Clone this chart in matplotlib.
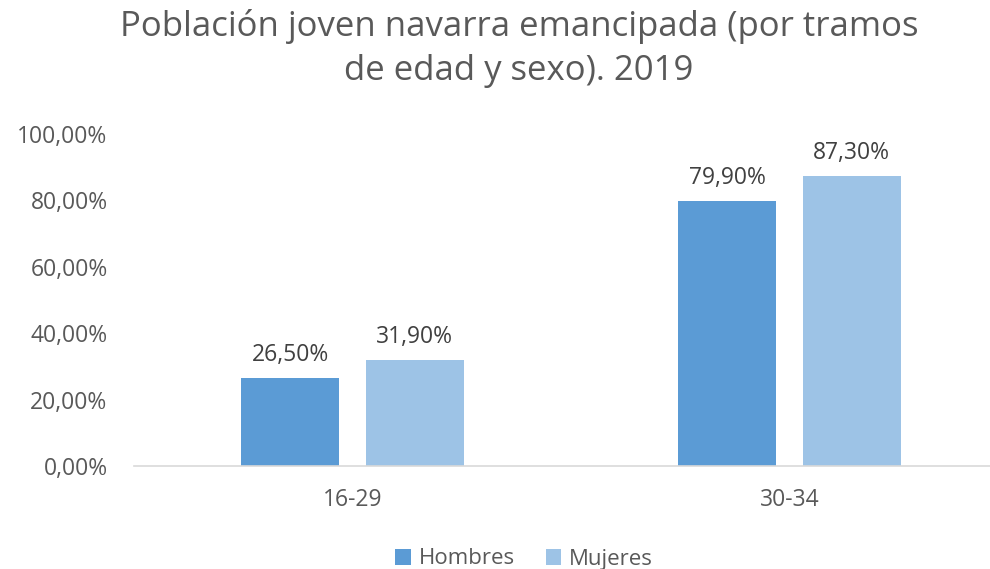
import numpy as np
import matplotlib.pyplot as plt
from matplotlib.ticker import FuncFormatter

# DATA
categories = ["16-29", "30-34"]
hombres = [0.265, 0.799]
mujeres = [0.319, 0.873]
series = ["Hombres", "Mujeres"]

plt.rcParams['font.family'] = ['Open Sans', 'DejaVu Sans']

fig = plt.figure(figsize=(9.9, 5.69), dpi=100)
ax = fig.add_axes([134 / 990, (569 - 466) / 569, 874 / 990, 332 / 569])

x = np.arange(len(categories))
width = 0.224
offset = 0.1425

barsH = ax.bar(x - offset, hombres, width, color="#5B9BD5", label=series[0])
barsM = ax.bar(x + offset, mujeres, width, color="#9DC3E6", label=series[1])

for bars in (barsH, barsM):
	for bar in bars:
		value = bar.get_height()
		ax.annotate(("%.2f%%" % (value * 100)).replace(".", ","), (bar.get_x() + bar.get_width() / 2, value),
			xytext=(0, 8), textcoords="offset points", ha="center", va="bottom", fontsize=16.5, color="#404040")

ax.set_xlim(-0.5, 1.5)
ax.set_ylim(0, 1)
ax.set_yticks(np.arange(0, 1.01, 0.2))
ax.yaxis.set_major_formatter(FuncFormatter(lambda v, p: ("%.2f%%" % (v * 100)).replace(".", ",")))
ax.set_xticks(x)
ax.set_xticklabels(categories)

for spine in ["top", "right", "left"]:
	ax.spines[spine].set_visible(False)
ax.spines["bottom"].set_color("#D9D9D9")
ax.spines["bottom"].set_linewidth(1.2)
ax.tick_params(axis="both", length=0, labelsize=16.5, colors="#595959")
ax.tick_params(axis="x", pad=16)
ax.tick_params(axis="y", pad=19)

fig.text(519 / 990, 1 - 9 / 569, "Población joven navarra emancipada (por tramos\nde edad y sexo). 2019", ha="center", va="top",
	fontsize=25, color="#595959", linespacing=1.38)

fig.legend(loc="center", bbox_to_anchor=(524 / 990, 1 - 559 / 569), ncol=2, frameon=False, fontsize=16,
	handlelength=0.7, handleheight=0.7, handletextpad=0.35, columnspacing=1.4, labelcolor="#595959")

fig.savefig("out.png", dpi=100)
